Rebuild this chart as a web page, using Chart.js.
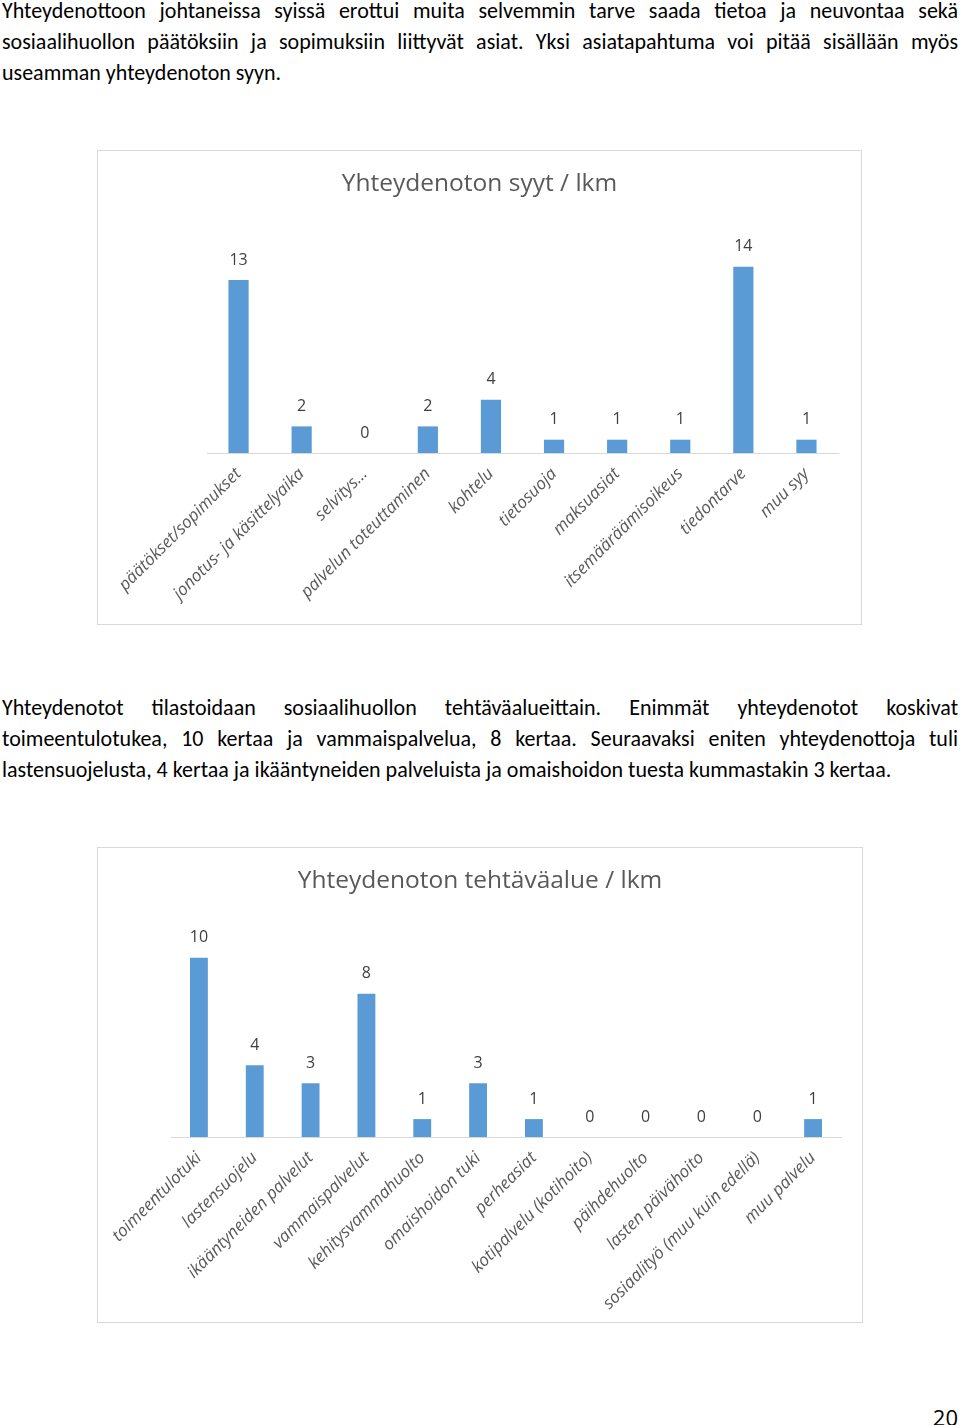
<!DOCTYPE html>
<html>
<head>
<meta charset="utf-8">
<script src="https://cdn.jsdelivr.net/npm/chart.js@4.4.1/dist/chart.umd.min.js"></script>
<style>
  body { margin: 0; width: 960px; height: 1425px; position: relative; background: #fff; }
  .txt { position: absolute; left: 2px; width: 956px; font-family: "Liberation Sans Narrow", "Carlito", "Open Sans", sans-serif; font-size: 22px; color: #000; }
  .ln { height: 31px; line-height: 31px; text-align: justify; text-align-last: justify; white-space: nowrap; }
  .ln.last { text-align-last: left; }
  .box { position: absolute; border: 1px solid #d9d9d9; background: #fff; }
  .title { position: absolute; left: 0; right: 0; top: 15px; text-align: center; font-family: "Open Sans", "Noto Sans", sans-serif; font-size: 24.5px; color: #595959; line-height: 32px; }
  .page { position: absolute; right: 2px; top: 1402px; font-family: "Liberation Sans Narrow", "Open Sans", sans-serif; font-size: 22px; }
</style>
</head>
<body>
<div class="txt" style="top:-5px">
  <div class="ln">Yhteydenottoon johtaneissa syissä erottui muita selvemmin tarve saada tietoa ja neuvontaa sekä</div>
  <div class="ln">sosiaalihuollon päätöksiin ja sopimuksiin liittyvät asiat. Yksi asiatapahtuma voi pitää sisällään myös</div>
  <div class="ln last">useamman yhteydenoton syyn.</div>
</div>

<div class="box" style="left:97px; top:150px; width:763px; height:473px;">
  <canvas id="reasons" width="763" height="473"></canvas>
  <div class="title">Yhteydenoton syyt / lkm</div>
</div>

<div class="txt" style="top:692px">
  <div class="ln">Yhteydenotot tilastoidaan sosiaalihuollon tehtäväalueittain. Enimmät yhteydenotot koskivat</div>
  <div class="ln">toimeentulotukea, 10 kertaa ja vammaispalvelua, 8 kertaa. Seuraavaksi eniten yhteydenottoja tuli</div>
  <div class="ln last">lastensuojelusta, 4 kertaa ja ikääntyneiden palveluista ja omaishoidon tuesta kummastakin 3 kertaa.</div>
</div>

<div class="box" style="left:97px; top:847px; width:764px; height:474px;">
  <canvas id="areas" width="764" height="474"></canvas>
  <div class="title">Yhteydenoton tehtäväalue / lkm</div>
</div>

<div class="page">20</div>

<script>
const reasonLabels = ['päätökset/sopimukset', 'jonotus- ja käsittelyaika', 'selvitys…', 'palvelun toteuttaminen',
  'kohtelu', 'tietosuoja', 'maksuasiat', 'itsemääräämisoikeus', 'tiedontarve', 'muu syy'];
const reasonCounts = [13, 2, 0, 2, 4, 1, 1, 1, 14, 1];

const areaLabels = ['toimeentulotuki', 'lastensuojelu', 'ikääntyneiden palvelut', 'vammaispalvelut',
  'kehitysvammahuolto', 'omaishoidon tuki', 'perheasiat', 'kotipalvelu (kotihoito)', 'päihdehuolto',
  'lasten päivähoito', 'sosiaalityö (muu kuin edellä)', 'muu palvelu'];
const areaCounts = [10, 4, 3, 8, 1, 3, 1, 0, 0, 0, 0, 1];

const chartFont = '"Open Sans", "Noto Sans", sans-serif';

// draws the count above every bar
const valueLabels = {
    id: 'valueLabels',
    afterDatasetsDraw(chart) {
        const ctx = chart.ctx;
        const meta = chart.getDatasetMeta(0);
        const values = chart.data.datasets[0].data;
        ctx.save();
        ctx.fillStyle = '#404040';
        ctx.font = '16px ' + chartFont;
        ctx.textAlign = 'center';
        ctx.textBaseline = 'middle';
        meta.data.forEach((bar, i) => {
            ctx.fillText(values[i], bar.x, bar.y - 20);
        });
        ctx.restore();
    }
};

function makeChart(id, labels, counts, yMax, pad, axisHeight) {
    return new Chart(document.getElementById(id), {
        type: 'bar',
        data: {
            labels: labels,
            datasets: [{
                data: counts,
                backgroundColor: '#5b9bd5',
                categoryPercentage: 1,
                barPercentage: 0.32
            }]
        },
        options: {
            responsive: false,
            animation: false,
            devicePixelRatio: 1,
            layout: { padding: pad },
            plugins: {
                legend: { display: false },
                tooltip: { enabled: false }
            },
            scales: {
                x: {
                    grid: { display: false },
                    border: { display: true, color: '#d9d9d9', width: 1 },
                    ticks: {
                        color: '#595959',
                        font: { family: chartFont, size: 17, style: 'italic' },
                        minRotation: 45,
                        maxRotation: 45,
                        autoSkip: false,
                        padding: 3
                    },
                    afterFit(scale) { scale.height = axisHeight; }
                },
                y: { display: false, min: 0, max: yMax }
            }
        },
        plugins: [valueLabels]
    });
}

makeChart('reasons', reasonLabels, reasonCounts, 16,
    { left: 109, right: 23, top: 89, bottom: 0 }, 171);
makeChart('areas', areaLabels, areaCounts, 12,
    { left: 73, right: 21, top: 74, bottom: 0 }, 185);
</script>
</body>
</html>
